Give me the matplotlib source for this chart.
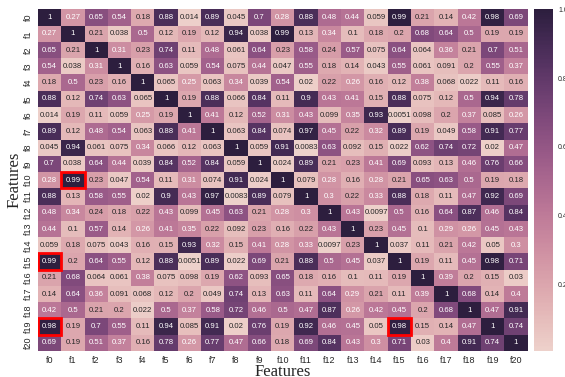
import matplotlib
matplotlib.use("Agg")
import matplotlib.pyplot as plt
import seaborn as sns
import numpy as np
from matplotlib.patches import Rectangle

features = ["f%d" % i for i in range(21)]

# matrice de correlation
corr = [
    [1, 0.27, 0.65, 0.54, 0.18, 0.88, 0.014, 0.89, 0.045, 0.7, 0.28, 0.88, 0.48, 0.44, 0.059, 0.99, 0.21, 0.14, 0.42, 0.98, 0.69],
    [0.27, 1, 0.21, 0.038, 0.5, 0.12, 0.19, 0.12, 0.94, 0.038, 0.99, 0.13, 0.34, 0.1, 0.18, 0.2, 0.68, 0.64, 0.5, 0.19, 0.19],
    [0.65, 0.21, 1, 0.31, 0.23, 0.74, 0.11, 0.48, 0.061, 0.64, 0.23, 0.58, 0.24, 0.57, 0.075, 0.64, 0.064, 0.36, 0.21, 0.7, 0.51],
    [0.54, 0.038, 0.31, 1, 0.16, 0.63, 0.059, 0.54, 0.075, 0.44, 0.047, 0.55, 0.18, 0.14, 0.043, 0.55, 0.061, 0.091, 0.2, 0.55, 0.37],
    [0.18, 0.5, 0.23, 0.16, 1, 0.065, 0.25, 0.063, 0.34, 0.039, 0.54, 0.02, 0.22, 0.26, 0.16, 0.12, 0.38, 0.068, 0.022, 0.11, 0.16],
    [0.88, 0.12, 0.74, 0.63, 0.065, 1, 0.19, 0.88, 0.066, 0.84, 0.11, 0.9, 0.43, 0.41, 0.15, 0.88, 0.075, 0.12, 0.5, 0.94, 0.78],
    [0.014, 0.19, 0.11, 0.059, 0.25, 0.19, 1, 0.41, 0.12, 0.52, 0.31, 0.43, 0.099, 0.35, 0.93, 0.0051, 0.098, 0.2, 0.37, 0.085, 0.26],
    [0.89, 0.12, 0.48, 0.54, 0.063, 0.88, 0.41, 1, 0.063, 0.84, 0.074, 0.97, 0.45, 0.22, 0.32, 0.89, 0.19, 0.049, 0.58, 0.91, 0.77],
    [0.045, 0.94, 0.061, 0.075, 0.34, 0.066, 0.12, 0.063, 1, 0.059, 0.91, 0.0083, 0.63, 0.092, 0.15, 0.022, 0.62, 0.74, 0.72, 0.02, 0.47],
    [0.7, 0.038, 0.64, 0.44, 0.039, 0.84, 0.52, 0.84, 0.059, 1, 0.024, 0.89, 0.21, 0.23, 0.41, 0.69, 0.093, 0.13, 0.46, 0.76, 0.66],
    [0.28, 0.99, 0.23, 0.047, 0.54, 0.11, 0.31, 0.074, 0.91, 0.024, 1, 0.079, 0.28, 0.16, 0.28, 0.21, 0.65, 0.63, 0.5, 0.19, 0.18],
    [0.88, 0.13, 0.58, 0.55, 0.02, 0.9, 0.43, 0.97, 0.0083, 0.89, 0.079, 1, 0.3, 0.22, 0.33, 0.88, 0.18, 0.11, 0.47, 0.92, 0.69],
    [0.48, 0.34, 0.24, 0.18, 0.22, 0.43, 0.099, 0.45, 0.63, 0.21, 0.28, 0.3, 1, 0.43, 0.0097, 0.5, 0.16, 0.64, 0.87, 0.46, 0.84],
    [0.44, 0.1, 0.57, 0.14, 0.26, 0.41, 0.35, 0.22, 0.092, 0.23, 0.16, 0.22, 0.43, 1, 0.23, 0.45, 0.1, 0.29, 0.26, 0.45, 0.43],
    [0.059, 0.18, 0.075, 0.043, 0.16, 0.15, 0.93, 0.32, 0.15, 0.41, 0.28, 0.33, 0.0097, 0.23, 1, 0.037, 0.11, 0.21, 0.42, 0.05, 0.3],
    [0.99, 0.2, 0.64, 0.55, 0.12, 0.88, 0.0051, 0.89, 0.022, 0.69, 0.21, 0.88, 0.5, 0.45, 0.037, 1, 0.19, 0.11, 0.45, 0.98, 0.71],
    [0.21, 0.68, 0.064, 0.061, 0.38, 0.075, 0.098, 0.19, 0.62, 0.093, 0.65, 0.18, 0.16, 0.1, 0.11, 0.19, 1, 0.39, 0.2, 0.15, 0.03],
    [0.14, 0.64, 0.36, 0.091, 0.068, 0.12, 0.2, 0.049, 0.74, 0.13, 0.63, 0.11, 0.64, 0.29, 0.21, 0.11, 0.39, 1, 0.68, 0.14, 0.4],
    [0.42, 0.5, 0.21, 0.2, 0.022, 0.5, 0.37, 0.58, 0.72, 0.46, 0.5, 0.47, 0.87, 0.26, 0.42, 0.45, 0.2, 0.68, 1, 0.47, 0.91],
    [0.98, 0.19, 0.7, 0.55, 0.11, 0.94, 0.085, 0.91, 0.02, 0.76, 0.19, 0.92, 0.46, 0.45, 0.05, 0.98, 0.15, 0.14, 0.47, 1, 0.74],
    [0.69, 0.19, 0.51, 0.37, 0.16, 0.78, 0.26, 0.77, 0.47, 0.66, 0.18, 0.69, 0.84, 0.43, 0.3, 0.71, 0.03, 0.4, 0.91, 0.74, 1],
]

# cases encadrees en rouge (ligne, colonne)
highlight = [(10, 1), (15, 0), (19, 0), (19, 15)]

sns.set_style("white")
plt.rcParams['font.family'] = ['Liberation Sans', 'DejaVu Sans']

fig = plt.figure(figsize=(5.65, 3.77), dpi=100)
ax = fig.add_axes([0.067, 0.069, 0.867, 0.906])
cax = fig.add_axes([0.945, 0.069, 0.034, 0.906])

cmap = sns.cubehelix_palette(as_cmap=True)
sns.heatmap(np.array(corr), ax=ax, cbar_ax=cax, cmap=cmap, annot=True,
            annot_kws={"size": 5.6}, xticklabels=features, yticklabels=features)

for r, c in highlight:
    ax.add_patch(Rectangle((c, r), 1, 1, fill=False, edgecolor="red", lw=2))

ax.tick_params(axis="both", labelsize=6.5, length=0, colors="#262626")
ax.set_yticklabels(features, rotation=90, va="center")
ax.set_xticklabels(features, rotation=0)
ax.set_xlabel("Features", family="Liberation Serif", fontsize=12, labelpad=-0.5)
ax.set_ylabel("Features", family="Liberation Serif", fontsize=12, labelpad=1)

cax.tick_params(labelsize=5, length=0)
cax.set_yticks([0.2, 0.4, 0.6, 0.8, 1.0])

fig.savefig("out.png", dpi=100)
